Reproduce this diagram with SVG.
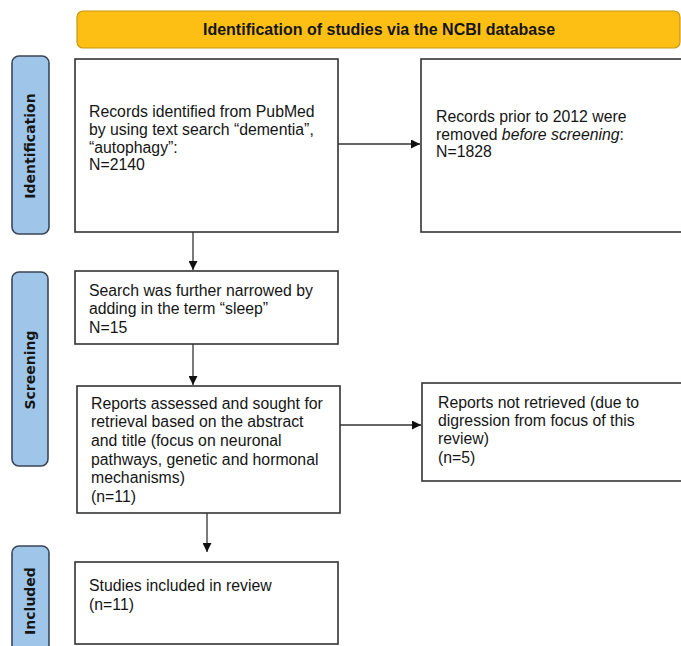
<svg xmlns="http://www.w3.org/2000/svg" width="681" height="646" viewBox="0 0 681 646">
<defs>
<marker id="ah" viewBox="0 0 10 10" refX="10" refY="5" markerWidth="9" markerHeight="9" markerUnits="userSpaceOnUse" orient="auto">
<path d="M0,0 L10,5 L0,10 z" fill="#111"/>
</marker>
<style>
.box{fill:#fff;stroke:#333;stroke-width:1.6}
.side{fill:#9fc5e8;stroke:#3a4656;stroke-width:1.6}
.hdr{fill:#fdbf14;stroke:#c9960e;stroke-width:1.2}
.t{font-family:"Liberation Sans",Arial,sans-serif;font-size:15.8px;fill:#151515}
.h{font-family:"Liberation Sans",Arial,sans-serif;font-size:16px;font-weight:bold;fill:#151515}
.s{font-family:"DejaVu Sans",Verdana,sans-serif;font-size:14px;font-weight:bold;fill:#151515}
.c{fill:none;stroke:#333;stroke-width:1.3}
</style>
</defs>
<rect width="681" height="646" fill="#fff"/>
<g id="header">
<rect class="hdr" x="77" y="11" width="603" height="37" rx="6"/>
<text class="h" x="379" y="35" text-anchor="middle">Identification of studies via the NCBI database</text>
</g>
<g id="phase-identification">
<rect class="side" x="12" y="56" width="37" height="178" rx="7"/>
<text class="s" transform="translate(35,146) rotate(-90)" text-anchor="middle">Identification</text>
</g>
<g id="phase-screening">
<rect class="side" x="12" y="272" width="36" height="194" rx="7"/>
<text class="s" transform="translate(35,370) rotate(-90)" text-anchor="middle">Screening</text>
</g>
<g id="phase-included">
<rect class="side" x="12" y="546" width="37" height="115" rx="7"/>
<text class="s" transform="translate(35,601) rotate(-90)" text-anchor="middle">Included</text>
</g>
<g id="records-identified">
<rect class="box" x="75" y="59" width="263" height="173"/>
<text class="t" x="89" y="117">Records identified from PubMed</text>
<text class="t" x="89" y="135">by using text search “dementia”,</text>
<text class="t" x="89" y="153">“autophagy”:</text>
<text class="t" x="89" y="170">N=2140</text>
</g>
<g id="records-removed">
<rect class="box" x="421" y="59" width="264" height="173"/>
<text class="t" x="436" y="122">Records prior to 2012 were</text>
<text class="t" x="436" y="140">removed <tspan font-style="italic">before screening</tspan>:</text>
<text class="t" x="436" y="157">N=1828</text>
</g>
<g id="narrowed">
<rect class="box" x="75" y="271" width="263" height="73"/>
<text class="t" x="89" y="296">Search was further narrowed by</text>
<text class="t" x="89" y="314">adding in the term “sleep”</text>
<text class="t" x="89" y="333">N=15</text>
</g>
<g id="reports-assessed">
<rect class="box" x="77" y="386" width="263" height="127"/>
<text class="t" x="91" y="409">Reports assessed and sought for</text>
<text class="t" x="91" y="427">retrieval based on the abstract</text>
<text class="t" x="91" y="446">and title (focus on neuronal</text>
<text class="t" x="91" y="465">pathways, genetic and hormonal</text>
<text class="t" x="91" y="483">mechanisms)</text>
<text class="t" x="91" y="502">(n=11)</text>
</g>
<g id="reports-not-retrieved">
<rect class="box" x="422" y="383" width="264" height="98"/>
<text class="t" x="438" y="408">Reports not retrieved (due to</text>
<text class="t" x="438" y="426">digression from focus of this</text>
<text class="t" x="438" y="444">review)</text>
<text class="t" x="438" y="463">(n=5)</text>
</g>
<g id="studies-included">
<rect class="box" x="75" y="562" width="263" height="82"/>
<text class="t" x="89" y="591">Studies included in review</text>
<text class="t" x="89" y="610">(n=11)</text>
</g>
<g id="connectors">
<line class="c" x1="338" y1="144" x2="420" y2="144" marker-end="url(#ah)"/>
<line class="c" x1="193" y1="232" x2="193" y2="270" marker-end="url(#ah)"/>
<line class="c" x1="193" y1="344" x2="193" y2="385" marker-end="url(#ah)"/>
<line class="c" x1="340" y1="425" x2="421" y2="425" marker-end="url(#ah)"/>
<line class="c" x1="207" y1="513" x2="207" y2="552" marker-end="url(#ah)"/>
</g>
</svg>
